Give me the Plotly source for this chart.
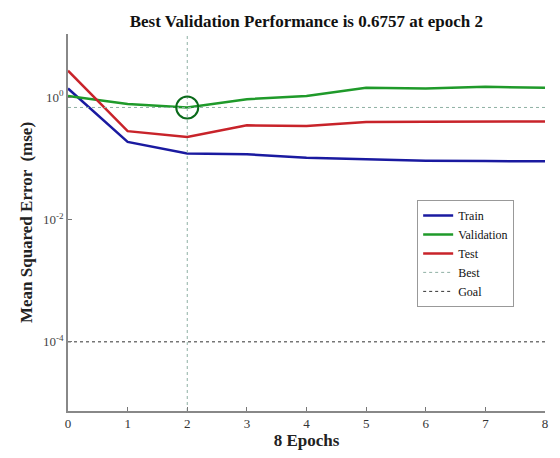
import plotly.graph_objects as go

epochs = [0, 1, 2, 3, 4, 5, 6, 7, 8]
train = [1.38, 0.185, 0.12, 0.116, 0.102, 0.095, 0.091, 0.090, 0.089]
validation = [1.04, 0.77, 0.6757, 0.92, 1.04, 1.42, 1.38, 1.47, 1.42]
test = [2.7, 0.277, 0.222, 0.345, 0.335, 0.39, 0.394, 0.40, 0.40]
best_epoch = 2
best_value = 0.6757
goal = 1e-4
ytick_vals = [1, 1e-2, 1e-4]
ytick_text = ["10<sup>0</sup>", "10<sup>-2</sup>", "10<sup>-4</sup>"]
yrange_log = [-5.13, 1.03]

serif = "Liberation Serif, Times New Roman, serif"

fig = go.Figure()
fig.add_trace(go.Scatter(x=epochs, y=train, mode="lines", name="Train",
                         line=dict(color="#1a1aa0", width=2.5)))
fig.add_trace(go.Scatter(x=epochs, y=validation, mode="lines", name="Validation",
                         line=dict(color="#1f9a2a", width=2.5)))
fig.add_trace(go.Scatter(x=epochs, y=test, mode="lines", name="Test",
                         line=dict(color="#c8232a", width=2.5)))
lo, hi = 10 ** yrange_log[0], 10 ** yrange_log[1]
fig.add_trace(go.Scatter(x=[best_epoch, best_epoch, None, epochs[0], epochs[-1]],
                         y=[lo, hi, None, best_value, best_value], mode="lines",
                         name="Best", line=dict(color="#8fb0a4", width=1, dash="dot")))
fig.add_trace(go.Scatter(x=[epochs[0], epochs[-1]], y=[goal, goal], mode="lines",
                         name="Goal", line=dict(color="#333333", width=1, dash="dot")))
fig.add_trace(go.Scatter(x=[best_epoch], y=[best_value], mode="markers", showlegend=False,
                         marker=dict(symbol="circle-open", size=22,
                                     line=dict(color="#0a6a1a", width=2), color="#0a6a1a")))

fig.update_layout(
    width=560, height=458,
    margin=dict(l=68, r=15, t=34, b=42),
    paper_bgcolor="white", plot_bgcolor="white",
    font=dict(family=serif, color="#222"),
    title=dict(text="<b>Best Validation Performance is 0.6757 at epoch 2</b>",
               x=0.547, xanchor="center", y=0.955, yanchor="middle",
               font=dict(size=17, color="#111", family=serif)),
    legend=dict(x=0.732, y=0.56, xanchor="left", yanchor="top",
                bordercolor="#999", borderwidth=1, bgcolor="white",
                font=dict(size=12, family=serif, color="#111"),
                tracegroupgap=0, itemwidth=30),
    showlegend=True,
)
fig.update_xaxes(range=[0, 8], tickvals=epochs, ticks="inside", ticklen=4,
                 tickcolor="#777", showgrid=False, zeroline=False,
                 showline=True, linecolor="#888", linewidth=1.5,
                 tickfont=dict(size=13, family=serif, color="#333"),
                 title=dict(text="<b>8 Epochs</b>", standoff=3,
                            font=dict(size=17, family=serif, color="#222")))
fig.update_yaxes(type="log", range=yrange_log, tickvals=ytick_vals, ticktext=ytick_text,
                 ticks="inside", ticklen=4, tickcolor="#777", showgrid=False,
                 zeroline=False, showline=True, linecolor="#888", linewidth=1.5,
                 tickfont=dict(size=13, family=serif, color="#444"),
                 title=dict(text="<b>Mean Squared Error  (mse)</b>", standoff=6,
                            font=dict(size=17, family=serif, color="#222")))

fig.write_html("out.html")
